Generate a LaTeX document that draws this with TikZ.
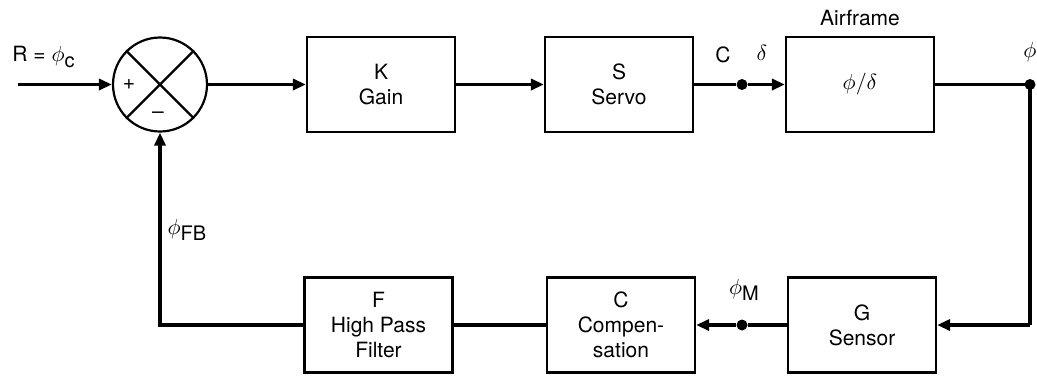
\documentclass[tikz,border=0pt]{standalone}
\usepackage{fontspec}
\setmainfont{TeX Gyre Heros}
\usepackage{amsmath}
\usetikzlibrary{arrows.meta}

\newcommand{\sigsub}[1]{\raisebox{-0.55ex}{\fontsize{10}{12}\selectfont #1}}

\begin{document}
\begin{tikzpicture}[
    x = 0.5pt, y = -0.5pt,
    line join=miter,
    block/.style = {draw, line width=1.1pt, minimum width=74pt, minimum height=47.5pt, align=center, inner sep=0pt, font=\fontsize{10.5}{12.5}\selectfont},
    signal/.style = {line width=1.7pt},
    flow/.style = {signal, -{Triangle[length=6.5pt, width=5.5pt]}},
    dot/.style = {circle, fill, inner sep=0pt, minimum size=5.5pt},
    lbl/.style = {inner sep=0pt, font=\fontsize{10.5}{12.5}\selectfont}
]

    \useasboundingbox (0,0) rectangle (1037,376);

    \node[circle, draw, line width=1.1pt, minimum size=47pt, inner sep=0pt] (sum) at (160,84.5) {};
    \draw[line width=1.1pt] (sum.north east) -- (sum.south west);
    \draw[line width=1.1pt] (sum.north west) -- (sum.south east);
    \node[lbl] (plus) at (129,85) {+};
    \node[lbl] (minus) at (158,115) {--};

    \node[block] (gain) at (381,84.5) {K\\Gain};
    \node[block] (servo) at (619,84.5) {S\\Servo};
    \node[block] (airframe) at (860,84.5) {$\phi/\delta$};
    \node[block] (sensor) at (862,325) {G\\Sensor};
    \node[block] (comp) at (621,325) {C\\Compen-\\sation};
    \node[block] (filter) at (378.5,325) {F\\High Pass\\Filter};

    \coordinate (in) at (18,84.5);
    \node[dot] (cdot) at (742,84.5) {};
    \node[dot] (phidot) at (1030,84.5) {};
    \coordinate (rcorner) at (1030,325);
    \node[dot] (mdot) at (742,325) {};
    \coordinate (lcorner) at (160,325);

    % forward path and feedback loop
    \draw[flow] (in) -- (sum.west);
    \draw[flow] (sum.east) -- (gain.west);
    \draw[flow] (gain.east) -- (servo.west);
    \draw[signal] (servo.east) -- (cdot);
    \draw[flow] (cdot) -- (airframe.west);
    \draw[signal] (airframe.east) -- (phidot.center) -- (rcorner);
    \draw[flow] (rcorner) -- (sensor.east);
    \draw[signal] (sensor.west) -- (mdot);
    \draw[flow] (mdot) -- (comp.east);
    \draw[signal] (comp.west) -- (filter.east);
    \draw[flow] (filter.west) -- (lcorner) -- (sum.south);

    \node[lbl, anchor=west] (ref) at (12,57) {R = $\phi$\sigsub{c}};
    \node[lbl] (clbl) at (723,55) {C};
    \node[lbl] (dlbl) at (762,53) {$\delta$};
    \node[lbl] (aflbl) at (860,18) {Airframe};
    \node[lbl] (philbl) at (1030,52) {$\phi$};
    \node[lbl] (fblbl) at (187,230) {$\phi$\sigsub{FB}};
    \node[lbl] (mlbl) at (744,290) {$\phi$\sigsub{M}};

\end{tikzpicture}
\end{document}
